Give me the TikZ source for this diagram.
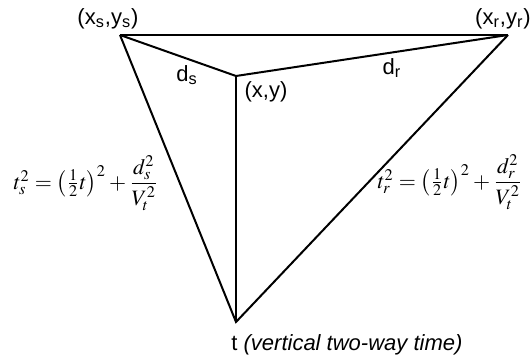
\documentclass[tikz,border=0pt]{standalone}
\usepackage{amsmath}
\usepackage{mathptmx}
\usepackage{fontspec}
\setmainfont{Liberation Sans}
\usetikzlibrary{positioning}

\begin{document}
\begin{tikzpicture}[x=0.5pt, y=0.5pt,
    edge/.style={line width=1pt, line join=miter},
    lbl/.style={inner sep=0pt, font=\fontsize{11}{13}\selectfont},
    eqn/.style={inner sep=0pt, font=\fontsize{11}{13}\selectfont}]
  \useasboundingbox (0,0) rectangle (532,358);

  % Esquinas del triangulo
  \coordinate (S) at (120,323);
  \coordinate (R) at (508,323);
  \coordinate (P) at (236,282);
  \coordinate (T) at (236,36);

  % Lineas
  \draw[edge, line width=1.4pt] (S) -- (R);
  \draw[edge] (S) -- (P) -- (R);
  \draw[edge] (P) -- (T);
  \draw[edge] (S) -- (T) -- (R);

  % Etiquetas de los puntos
  \node[lbl] (Slbl) at (108,339) {(x\textsubscript{s},y\textsubscript{s})};
  \node[lbl] (Rlbl) at (503,339) {(x\textsubscript{r},y\textsubscript{r})};
  \node[lbl] (Plbl) at (266,266) {(x,y)};
  \node[lbl] (ds) at (187,283) {d\textsubscript{s}};
  \node[lbl] (dr) at (392,290) {d\textsubscript{r}};
  \node[lbl, anchor=west] (Tlbl) at (231,13) {t \textit{(vertical two-way time)}};

  % Ecuaciones
  \node[eqn] (eqs) at (86,175) {$t_s^2=\bigl(\tfrac{1}{2}t\bigr)^2+\dfrac{d_s^2}{V_t^2}$};
  \node[eqn] (eqr) at (450,176) {$t_r^2=\bigl(\tfrac{1}{2}t\bigr)^2+\dfrac{d_r^2}{V_t^2}$};
\end{tikzpicture}
\end{document}
